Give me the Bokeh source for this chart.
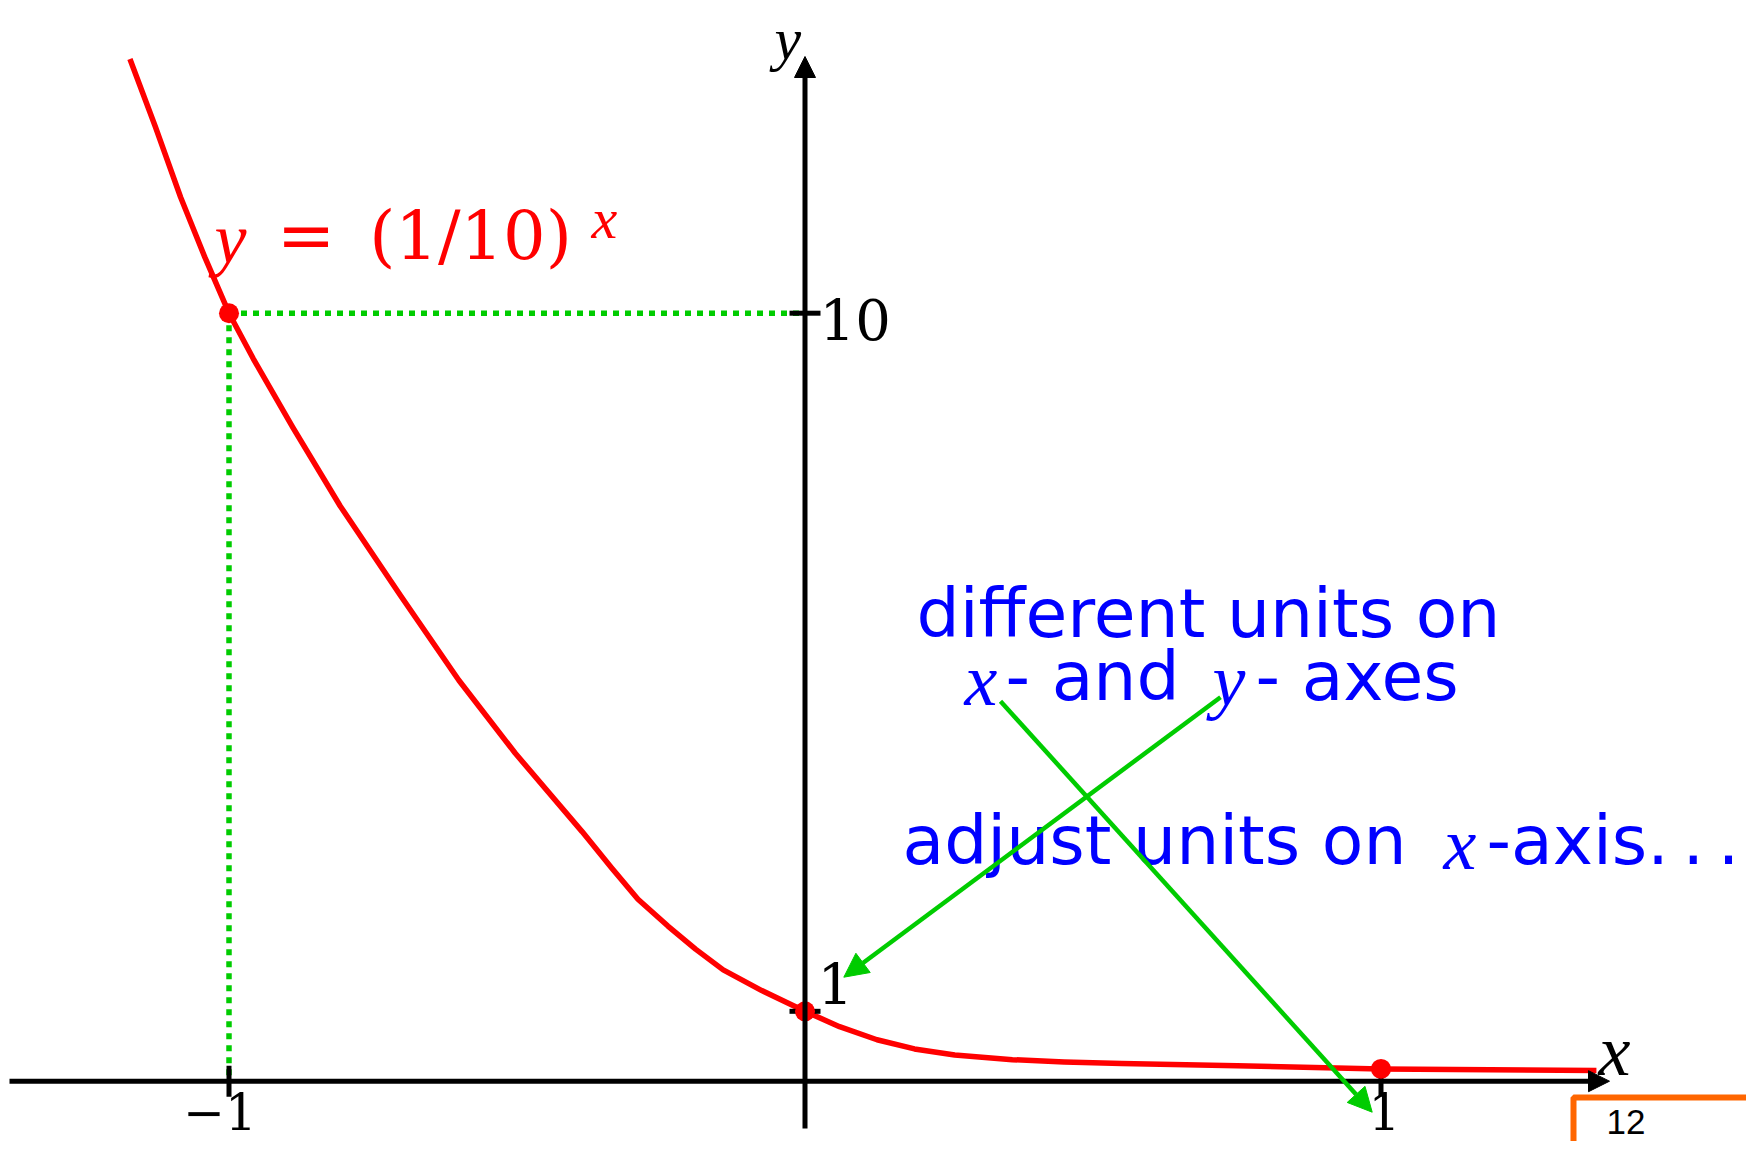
import numpy as np
from bokeh.plotting import figure
from bokeh.models import Range1d, Arrow, NormalHead
from bokeh.core.properties import value
from bokeh.embed import file_html
from bokeh.resources import INLINE

# ---------------- data ----------------
curve_x = [-1.172, -1.128, -1.084, -1.042, -1.0, -0.958, -0.889, -0.807, -0.702,
           -0.601, -0.503, -0.387, -0.336, -0.29, -0.238, -0.19, -0.142, -0.075,
           0.0, 0.06, 0.125, 0.19, 0.26, 0.36, 0.45, 0.55, 0.75, 1.0, 1.374]
curve_y = [13.31, 12.43, 11.51, 10.73, 10.0, 9.41, 8.51, 7.49, 6.32,
           5.22, 4.27, 3.25, 2.78, 2.37, 2.02, 1.72, 1.45, 1.18,
           0.91, 0.71, 0.54, 0.42, 0.34, 0.28, 0.25, 0.23, 0.20, 0.16, 0.14]
point_x = [-1, 0, 1]
point_y = [10.0, 0.91, 0.16]
xtick_vals = [-1, 1]
xtick_labels = ["\u22121", "1"]
ytick_vals = [10.0, 0.91]
ytick_labels = ["10", "1"]
equation = ["y", "=", "(1/10)", "x"]
note_lines = ["different units on", "x", "- and", "y", "- axes",
              "adjust units on", "x", "-axis.\u2009.\u2009."]
page_number = "12"

# ---------------- layout / style ----------------
W, H = 1746, 1141
X0, SX = 804.5, 576.0     # page px of x=0, px per x unit
Y0, SY = 1080.7, 76.8     # page px of y=0, px per y unit

RED = "#ff0000"
GREEN = "#00cc00"
BLUE = "#0000ff"
ORANGE = "#ff6600"
SERIF = "Liberation Serif"
DSERIF = "DejaVu Serif"
SANS = "DejaVu Sans"
# baseline correction per font (fraction of font size)
BASE_FIX = {SERIF: 0.25, DSERIF: 0.32, SANS: 0.32, "Liberation Sans": 0.27}


def X(px):
    return (px - X0) / SX


def Y(py):
    return (Y0 - py) / SY


p = figure(width=W, height=H, x_range=Range1d(X(0), X(W)),
           y_range=Range1d(Y(H), Y(0)), output_backend="svg",
           toolbar_location=None, x_axis_location=None, y_axis_location=None,
           min_border=0)
p.outline_line_color = None
p.xgrid.visible = False
p.ygrid.visible = False
p.background_fill_color = "white"
p.border_fill_color = "white"


def put(txt, px, py, font, size, color, style="normal", align="left"):
    p.text(x=[X(px)], y=[Y(py - BASE_FIX[font] * size)], text=[txt],
           text_font=value(font), text_font_size=value(f"{size}px"),
           text_font_style=value(style), text_color=color,
           text_align=align, text_baseline="alphabetic")


# dotted guide lines from the point (-1, 10)
p.segment(x0=[point_x[0], point_x[0]], y0=[point_y[0], point_y[0]],
          x1=[0, point_x[0]], y1=[point_y[0], 0],
          line_color=GREEN, line_width=5.5, line_dash="6 6")

# curve
p.line(curve_x, curve_y, line_color=RED, line_width=5.5, line_join="round")

# axes with arrow heads
p.add_layout(Arrow(end=NormalHead(size=21, fill_color="black", line_color="black", line_width=1),
                   x_start=X(9), y_start=0, x_end=X(1609), y_end=0,
                   line_color="black", line_width=5))
p.add_layout(Arrow(end=NormalHead(size=21, fill_color="black", line_color="black", line_width=1),
                   x_start=0, y_start=Y(1128), x_end=0, y_end=Y(56),
                   line_color="black", line_width=5))

# ticks
p.scatter(x=xtick_vals, y=[0] * len(xtick_vals), marker="dash", size=31,
          angle=np.pi / 2, line_color="black", line_width=5)
p.scatter(x=[0] * len(ytick_vals), y=ytick_vals, marker="dash", size=31,
          line_color="black", line_width=5)

# points
p.scatter(point_x, point_y, size=20, fill_color=RED, line_color=None)

# tick labels
for tv, lab, dx in zip(xtick_vals, xtick_labels, [-9, 3.5]):
    put(lab, X0 + SX * tv + dx, 1127, DSERIF, 50, "black", align="center")
put(ytick_labels[0], 819, Y0 - SY * ytick_vals[0] + 24, DSERIF, 56, "black")
put(ytick_labels[1], 817, Y0 - SY * ytick_vals[1] - 9.7, DSERIF, 56, "black")

# axis names
put("y", 774, 53, SERIF, 60, "black", style="italic")
put("x", 1598, 1068, SERIF, 72, "black", style="italic")

# equation
put(equation[0], 214, 256.7, SERIF, 72, RED, style="italic")
put(equation[1], 305.5, 256.7, DSERIF, 70, RED, align="center")
put(equation[2], 470, 256.7, DSERIF, 67, RED, align="center")
put(equation[3], 591, 232, SERIF, 58, RED, style="italic")

# blue notes
put(note_lines[0], 916, 635, SANS, 68, BLUE)
put(note_lines[1], 964, 698, SERIF, 74, BLUE, style="italic")
put(note_lines[2], 1005, 698, SANS, 68, BLUE)
put(note_lines[3], 1212, 698, SERIF, 74, BLUE, style="italic")
put(note_lines[4], 1255, 698, SANS, 68, BLUE)
put(note_lines[5], 902, 862, SANS, 68, BLUE)
put(note_lines[6], 1443, 862, SERIF, 74, BLUE, style="italic")
put(note_lines[7], 1486, 862, SANS, 68, BLUE)

# green annotation arrows
for (sx, sy, ex, ey) in [(1220, 696.7, 843.3, 976.7), (1000, 700.7, 1371.7, 1111.7)]:
    p.add_layout(Arrow(end=NormalHead(size=24, fill_color=GREEN, line_color=GREEN, line_width=1),
                       x_start=X(sx), y_start=Y(sy), x_end=X(ex), y_end=Y(ey),
                       line_color=GREEN, line_width=4.5))

# page number box
p.quad(left=[X(1573)], right=[X(1760)], top=[Y(1097)], bottom=[Y(1250)],
       fill_color=None, line_color=ORANGE, line_width=6)
put(page_number, 1606, 1131, "Liberation Sans", 35, "black")

open("out.html", "w").write(file_html(p, INLINE))
